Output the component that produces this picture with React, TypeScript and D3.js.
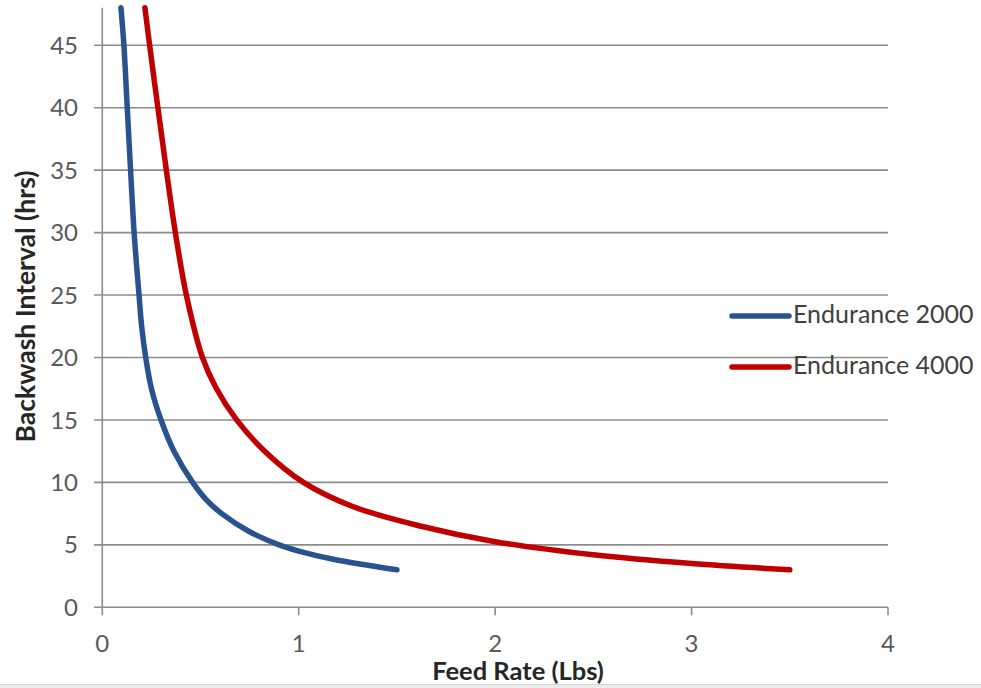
import React from 'react';
import * as d3 from 'd3';

// Endurance 2000 (blue)
const feed2000 = [0.095, 0.110, 0.127, 0.144, 0.162, 0.187, 0.201, 0.221, 0.251, 0.299, 0.365, 0.46, 0.53, 0.608, 0.75, 0.9, 1.0, 1.176, 1.5];
const hrs2000 = [48, 45, 40, 35, 30, 25, 22.4, 20, 17.45, 15, 12.5, 10, 8.6, 7.5, 6.05, 5, 4.5, 3.85, 3];

// Endurance 4000 (red)
const feed4000 = [0.217, 0.241, 0.283, 0.326, 0.372, 0.428, 0.51, 0.578, 0.684, 0.82, 1.024, 1.278, 1.618, 2.0, 2.5, 3.0, 3.5];
const hrs4000 = [48, 45, 40, 35, 30, 25, 20, 17.6, 15, 12.6, 10, 8.05, 6.51, 5.25, 4.2, 3.5, 3];

const xTicks = [0, 1, 2, 3, 4];
const yTicks = [0, 5, 10, 15, 20, 25, 30, 35, 40, 45];

const seriesNames = ['Endurance 2000', 'Endurance 4000'];
const seriesColors = ['#29538f', '#c00000'];

const W = 981;
const H = 688;
const FONT = 'Lato, "Open Sans", sans-serif';

const App: React.FC = () => {
  const x = d3.scaleLinear().domain([0, 4]).range([102.3, 888]);
  const y = d3.scaleLinear().domain([0, 48]).range([607.3, 7.8]);

  const line = d3.line<[number, number]>()
    .x(d => x(d[0]))
    .y(d => y(d[1]))
    .curve(d3.curveCatmullRom.alpha(0.5));

  const series = [
    feed2000.map((f, i) => [f, hrs2000[i]] as [number, number]),
    feed4000.map((f, i) => [f, hrs4000[i]] as [number, number]),
  ];

  const gridColor = '#8c8c8c';
  const tickColor = '#595959';

  return (
    <div style={{ position: 'absolute', left: 0, top: 0 }}>
      <svg width={W} height={H} style={{ display: 'block', background: '#fff' }}>
        {/* grid lines */}
        {yTicks.map(t => (
          <line key={'g' + t} x1={94} x2={x(4)} y1={y(t)} y2={y(t)} stroke={gridColor} strokeWidth={1.6} />
        ))}
        {/* y axis */}
        <line x1={x(0)} x2={x(0)} y1={y(48)} y2={y(0)} stroke={gridColor} strokeWidth={1.6} />
        {/* x axis ticks */}
        {xTicks.map(t => (
          <line key={'xt' + t} x1={x(t)} x2={x(t)} y1={y(0)} y2={y(0) + 8} stroke={gridColor} strokeWidth={1.6} />
        ))}
        {yTicks.map(t => (
          <text key={'yl' + t} x={78} y={y(t)} dy="0.36em" textAnchor="end" fontFamily={FONT} fontSize={24} fill={tickColor}>
            {t}
          </text>
        ))}
        {xTicks.map(t => (
          <text key={'xl' + t} x={x(t)} y={652} textAnchor="middle" fontFamily={FONT} fontSize={24} fill={tickColor}>
            {t}
          </text>
        ))}

        {/* series */}
        {series.map((s, i) => (
          <path key={'s' + i} d={line(s) || ''} fill="none" stroke={seriesColors[i]} strokeWidth={5.5} strokeLinecap="round" />
        ))}

        {/* legend */}
        {seriesNames.map((name, i) => {
          const ly = [316, 367][i];
          return (
            <g key={'lg' + i}>
              <line x1={732} x2={789} y1={ly} y2={ly} stroke={seriesColors[i]} strokeWidth={5.5} strokeLinecap="round" />
              <text x={793} y={ly + 7} fontFamily={FONT} fontSize={25} fill="#404040">{name}</text>
            </g>
          );
        })}

        {/* axis titles */}
        <text x={518} y={680} textAnchor="middle" fontFamily={FONT} fontSize={25.5} fontWeight="bold" fill="#262626">
          Feed Rate (Lbs)
        </text>
        <text transform="translate(35, 306.5) rotate(-90)" textAnchor="middle" fontFamily={FONT} fontSize={26.5} fontWeight="bold" fill="#262626">
          Backwash Interval (hrs)
        </text>

        {/* bottom strip */}
        <rect x={0} y={684} width={W} height={4} fill="#ececec" />
        <line x1={0} x2={W} y1={684.5} y2={684.5} stroke="#d4d4d4" strokeWidth={1} />
      </svg>
    </div>
  );
};

export default App;
